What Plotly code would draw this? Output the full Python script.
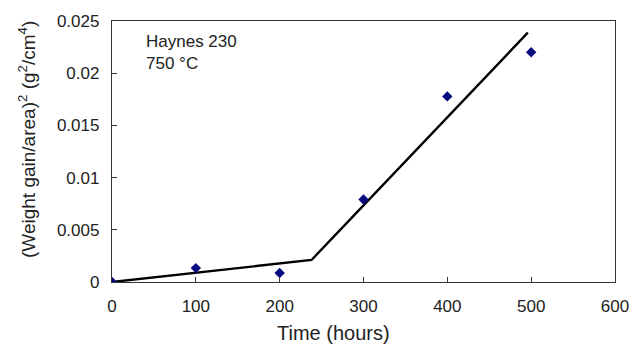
import plotly.graph_objects as go

# Measured data
time_h = [0, 100, 200, 300, 400, 500]
wg_sq = [0.0, 0.00133, 0.00086, 0.0079, 0.01778, 0.0220]

# Piecewise linear fit (two regimes)
fit_t = [0, 238, 496]
fit_y = [0.0, 0.00211, 0.02388]

x_ticks = [0, 100, 200, 300, 400, 500, 600]
y_ticks = [0, 0.005, 0.01, 0.015, 0.02, 0.025]
y_ticktext = ["0", "0.005", "0.01", "0.015", "0.02", "0.025"]

font_family = "Liberation Sans, Arial, sans-serif"

fig = go.Figure()
fig.add_trace(go.Scatter(x=fit_t, y=fit_y, mode="lines",
                         line=dict(color="black", width=2.4), showlegend=False))
fig.add_trace(go.Scatter(x=time_h, y=wg_sq, mode="markers",
                         marker=dict(symbol="diamond", size=8, color="#0a0a80"),
                         showlegend=False))

fig.update_layout(
    width=644, height=348,
    margin=dict(l=112, r=29, t=13, b=66),
    paper_bgcolor="white", plot_bgcolor="white",
    font=dict(family=font_family, size=17, color="#222"),
    xaxis=dict(range=[0, 600], tickvals=x_ticks, ticks="inside", ticklen=5,
               tickcolor="#333", showline=True, linecolor="#333", linewidth=1.3,
               mirror=True, showgrid=False, zeroline=False,
               tickfont=dict(size=17), ticklabelstandoff=8),
    yaxis=dict(range=[0, 0.025], tickvals=y_ticks, ticktext=y_ticktext,
               ticks="inside", ticklen=5, tickcolor="#333", showline=True,
               linecolor="#333", linewidth=1.3, mirror=True, showgrid=False,
               zeroline=False, tickfont=dict(size=17), ticklabelstandoff=8),
    annotations=[
        dict(x=0.063, y=0.965, xref="paper", yref="paper",
             xanchor="left", yanchor="top", align="left", showarrow=False,
             text="Haynes 230<br>750 °C", font=dict(size=17)),
        dict(x=0.441, y=-0.195, xref="paper", yref="paper",
             xanchor="center", yanchor="middle", showarrow=False,
             text="Time (hours)", font=dict(size=20)),
        dict(x=-0.168, y=0.546, xref="paper", yref="paper",
             xanchor="center", yanchor="middle", showarrow=False, textangle=-90,
             text="(Weight gain/area)<sup>2</sup> (g<sup>2</sup>/cm<sup>4</sup>)",
             font=dict(size=19)),
    ],
)

fig.write_html("out.html")
